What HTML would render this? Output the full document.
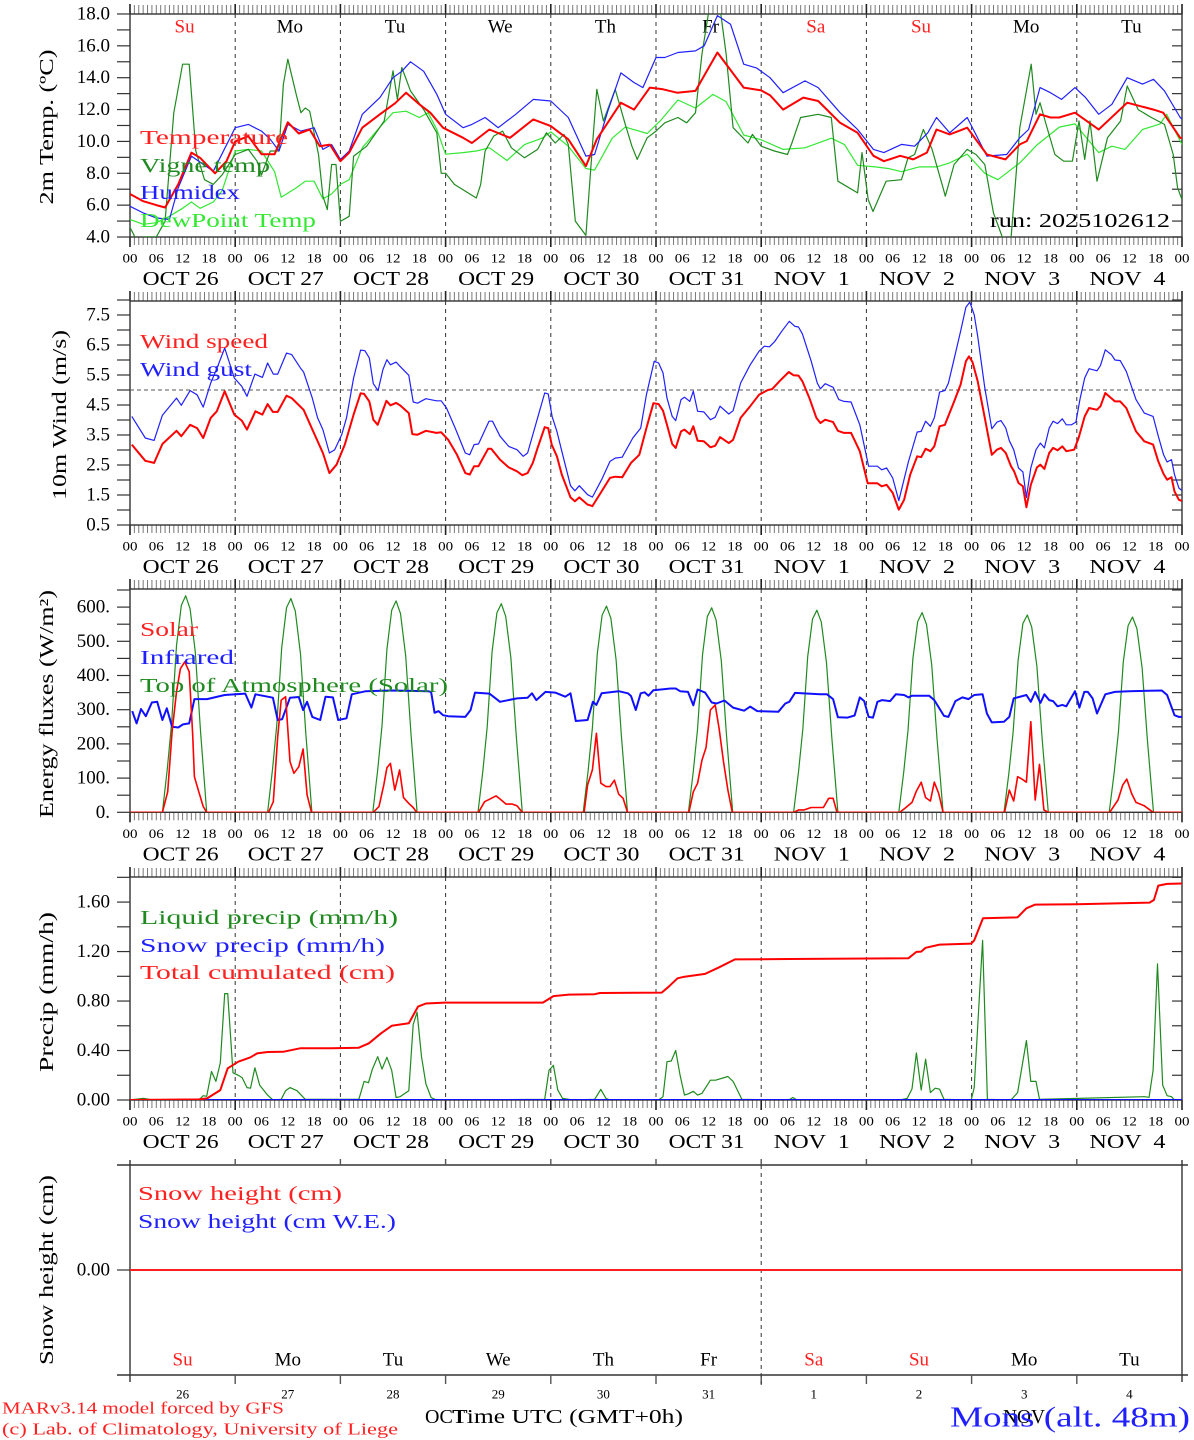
<!DOCTYPE html>
<html><head><meta charset="utf-8">
<style>html,body{margin:0;padding:0;background:#fff}svg{display:block}text{font-family:"Liberation Serif",serif;white-space:pre}</style>
</head><body>
<svg id="chart" xmlns="http://www.w3.org/2000/svg" width="1194" height="1440" viewBox="0 0 1194 1440"></svg>
<script>
// ---------- data ----------
const tempPts=[[0,6.7],[3,6.25],[6,6.0],[8,5.85],[11,7.3],[14,9.3],[16,8.97],[19.4,8.0],[22,8.75],[24,10.0],[27,10.33],[30,9.2],[33,9.2],[36,11.2],[38.5,10.5],[41,10.75],[43.3,9.7],[45.6,9.8],[48,8.76],[50,9.3],[53,10.86],[57,11.7],[60.5,12.4],[63,13.06],[66,12.33],[68.5,11.8],[71.4,10.86],[76,10.23],[78,9.9],[82,10.75],[86.7,10.23],[92,11.38],[96,10.96],[100,10.13],[104,8.45],[106.5,10.13],[112,12.43],[115,12.0],[118.6,13.38],[121.6,13.27],[124.8,13.06],[129,13.17],[134,15.58],[140,13.38],[144,13.2],[146,12.9],[149,12.0],[153.6,12.75],[157,12.54],[162,11.17],[166,10.54],[169.6,9.1],[172,8.76],[175.7,9.1],[178.7,8.87],[181.8,9.3],[184,10.75],[187,10.44],[191,10.86],[195.5,9.18],[199.7,8.87],[203,9.81],[204.6,10.02],[207.6,11.7],[210,11.5],[212,11.5],[215.6,11.8],[221,10.75],[227.5,12.43],[233.5,12.0],[235.7,11.8],[239.6,10.23],[240,10.2]];
const humPts=[[0,5.93],[3,5.51],[6,5.2],[9,5.1],[11,7.08],[14,9.08],[19,8.13],[24,10.86],[27,11.07],[30,10.65],[32,10.13],[34,9.4],[36,11.07],[39,10.65],[42,10.86],[44,9.5],[46,9.8],[48,8.87],[50,9.4],[53,11.7],[57,12.75],[60,14.0],[62,14.4],[64,15.0],[67,14.4],[70,12.96],[72,11.7],[76,10.86],[78,11.07],[81,11.5],[84,10.86],[88,11.7],[92,12.64],[96,12.54],[100,11.5],[104,9.08],[106,9.18],[109,11.9],[112,14.3],[115,13.69],[117,13.38],[120,15.27],[122,15.27],[125,15.58],[129,15.68],[131,16.0],[134,17.9],[137,17.36],[140,14.85],[143,14.6],[146,14.0],[149,13.06],[154,13.8],[157,13.38],[162,11.8],[166,10.75],[169.6,9.5],[172,9.3],[176,9.81],[179,9.7],[182,10.54],[184,11.5],[187,10.54],[191,11.5],[195.5,9.08],[200,9.18],[203,10.23],[205,10.75],[207.6,13.38],[210,13.06],[212.5,12.64],[215.6,13.38],[218,12.75],[221,11.7],[224,12.33],[227.5,14.0],[231,13.6],[233.5,13.9],[236,13.17],[239.6,11.5],[240,11.4]];
const dewPts=[[0,5.1],[3,4.8],[6,4.9],[9,5.3],[12,5.8],[14,6.2],[16,5.8],[19,6.2],[21,6.9],[24,9.4],[27,9.5],[30,9.4],[33,8.1],[34.5,6.5],[38,7.1],[40,7.5],[42,7.5],[44,6.4],[46,6.7],[48,7.3],[50,7.6],[53,9.6],[57,10.9],[60,11.8],[63,11.9],[66,11.5],[68,11.8],[70,10.75],[72,9.2],[76,9.3],[79,9.4],[82,9.6],[86,8.8],[90,9.8],[94,10.2],[96,10.6],[100,9.7],[104,8.3],[106,8.2],[110,10.2],[113,10.9],[118,10.5],[121,11.3],[125,12.6],[129,12.1],[133,12.95],[136,12.5],[140,10.4],[144,10.1],[149,9.5],[154,9.6],[160,10.2],[163,9.8],[166,8.5],[170,8.4],[173,8.3],[176,8.1],[180,8.4],[184,8.4],[187,8.65],[191,9.2],[195,8.0],[198,7.6],[203,8.65],[207,9.8],[212,10.9],[215.6,11.1],[221,9.3],[224,9.7],[227,9.5],[231,10.75],[235,11.1],[236.5,11.7],[240,9.8]];
const vigPts=[[0,4.6],[1.5,3.8],[3,4.0],[6,4.0],[8,5.0],[10,11.8],[12,14.85],[13.5,14.85],[15,9.4],[17,7.6],[19,7.3],[21,7.9],[24,9.18],[27,9.5],[29,8.76],[30,7.9],[32,9.4],[34,9.4],[35,13.6],[36,15.16],[38,12.85],[39,11.8],[40,12.1],[41,11.9],[43,9.18],[44,6.56],[45,5.72],[46,8.55],[47,8.55],[48,4.98],[50,5.3],[51,9.08],[54,9.7],[58,11.28],[60,14.43],[61,12.64],[62,14.64],[64,13.17],[67,12.0],[70,10.54],[71,8.0],[72,8.0],[74,7.3],[79,6.45],[80,7.3],[81,9.4],[83,10.34],[85,10.65],[87,9.6],[90,8.97],[93,9.5],[95,10.54],[97,9.9],[99,10.44],[100,9.8],[101.6,5.0],[104,4.1],[105.5,9.7],[106.5,13.27],[108,11.28],[110.7,13.27],[113,11.07],[114.5,9.7],[115.7,8.87],[118,10.23],[120,10.65],[122,11.17],[125,11.5],[127,11.17],[129,11.8],[130.5,15.5],[132,18.1],[134.7,18.2],[136,15.5],[137.6,10.86],[141,9.9],[142,10.44],[144,9.7],[147,9.4],[150,9.18],[151,9.9],[153,11.5],[157,11.7],[160,11.5],[161.5,7.5],[166,6.77],[167,9.3],[168.4,6.35],[169.5,5.6],[172.5,7.5],[176,7.6],[177.5,8.97],[179,9.18],[181,10.75],[183,9.5],[185.5,7.08],[186,6.56],[188,8.55],[191,9.5],[193,9.18],[195,8.55],[197,5.5],[199,4.0],[201,3.9],[203,10.86],[205.6,14.85],[206.7,11.7],[207.6,12.43],[209,11.07],[211,9.18],[213,8.76],[215,8.76],[216.5,11.28],[217.8,8.87],[219,11.28],[220.6,7.5],[223,10.23],[226,11.28],[227.5,13.48],[230,12.0],[233,11.5],[236,11.07],[238,9.18],[239,7.08],[240,6.35]];
const windPts=[[0.4,3.18],[3.5,2.64],[5.5,2.57],[7.4,3.2],[10.6,3.64],[11.7,3.46],[13.7,3.84],[15.3,3.73],[16.7,3.4],[18.4,4.07],[19.8,4.29],[21.6,4.96],[23.8,4.18],[25.5,3.98],[26.7,3.68],[28.6,4.29],[30.2,4.18],[31.4,4.53],[32.6,4.27],[33.7,4.27],[35.7,4.81],[36.9,4.73],[39.6,4.34],[41.8,3.62],[44,2.9],[45.5,2.23],[47.1,2.51],[49,3.18],[51,4.18],[52.6,4.89],[53.4,4.87],[54.6,4.62],[55.5,4.01],[56.5,3.84],[58.5,4.64],[59.4,4.49],[60.7,4.57],[61.6,4.49],[63.6,4.23],[64.4,3.53],[65.6,3.51],[67.5,3.64],[69.9,3.57],[71,3.59],[72.6,3.34],[74.6,2.84],[76.5,2.23],[77.5,2.18],[78.5,2.46],[79.5,2.46],[81.7,3.04],[82.4,3.04],[84.4,2.68],[86.4,2.42],[88.3,2.29],[89.5,2.16],[90.7,2.23],[91.9,2.57],[93,3.07],[94.6,3.76],[95.4,3.73],[96.2,3.18],[97.4,2.79],[98.5,2.18],[100.5,1.42],[101.5,1.29],[102.5,1.42],[104.4,1.18],[105.5,1.13],[107.6,1.62],[109.5,2.07],[110.7,2.11],[112.3,2.09],[114.3,2.57],[116.2,2.84],[117.8,3.73],[119.4,4.56],[120.6,4.53],[121.6,4.31],[122.5,3.84],[123.7,3.2],[124.5,3.07],[125.7,3.62],[126.5,3.68],[127.7,3.53],[128.5,3.79],[129.5,3.31],[130.9,3.29],[132.4,3.09],[133.5,3.14],[134.6,3.43],[136.6,3.23],[137.6,3.34],[139.3,4.07],[141.5,4.46],[143.5,4.84],[145.5,5.0],[146.5,5.03],[148.3,5.31],[150.3,5.6],[151.4,5.49],[152.5,5.48],[153.4,5.29],[155,4.73],[156.6,4.07],[157.5,3.9],[158.6,4.01],[160.4,3.93],[161.5,3.64],[162.9,3.57],[164.5,3.57],[166.5,2.96],[168.3,1.89],[170.5,1.89],[171.5,1.79],[172.6,1.84],[174,1.57],[175.4,1.01],[176.6,1.34],[178,2.18],[179.6,2.79],[180.5,2.76],[181.5,3.04],[182.6,2.96],[183.5,3.12],[184.7,3.79],[185.9,3.84],[187.9,4.57],[189.5,5.18],[190.7,5.96],[191.4,6.12],[192.2,5.93],[193.4,5.29],[195,4.07],[196.6,2.84],[197.8,3.01],[198.7,3.07],[199.8,2.9],[201,2.46],[201.7,2.29],[202.7,1.9],[203.7,1.79],[204.5,1.09],[205.5,1.84],[206.9,2.42],[207.7,2.51],[208.6,2.37],[209.7,2.9],[210.6,3.07],[211.6,2.99],[212.7,3.12],[213.6,2.96],[215.4,3.01],[216.4,3.4],[217.8,4.12],[218.8,4.4],[220.6,4.34],[221.4,4.46],[222.5,4.9],[224.7,4.62],[225.9,4.62],[227.3,4.4],[229.5,3.62],[231.4,3.29],[233.4,3.18],[234.6,2.62],[235.8,2.2],[236.6,2.01],[237.6,2.09],[238.3,1.62],[239.3,1.34],[240,1.3]];
const gustPts=[[0.4,4.12],[3.5,3.4],[5.5,3.32],[7.4,4.16],[10.6,4.73],[11.7,4.49],[13.7,4.98],[15.3,4.84],[16.7,4.43],[18.4,5.23],[20,5.79],[21.6,6.4],[23.8,5.4],[25.5,5.12],[26.7,4.79],[28.5,5.53],[30.2,5.42],[31.4,5.9],[32.7,5.53],[33.7,5.53],[35.7,6.23],[36.9,6.18],[38.9,5.73],[39.6,5.6],[41.6,4.73],[42.8,4.07],[44,3.68],[45.5,2.9],[46.7,3.01],[48.3,3.51],[49.4,4.07],[51,5.4],[52.6,6.33],[53.6,6.31],[54.6,6.07],[55.5,5.21],[56.6,4.98],[57.7,5.68],[58.6,6.01],[59.4,5.84],[60.7,5.93],[61.6,5.79],[63.6,5.49],[64.6,4.6],[65.6,4.56],[67.5,4.71],[69.9,4.64],[71,4.64],[72.2,4.4],[74.2,3.73],[76.5,2.9],[77.5,2.84],[78.5,3.18],[79.5,3.2],[81.9,3.96],[82.7,3.96],[84.4,3.46],[86.4,3.12],[88.3,3.01],[89.7,2.79],[90.7,2.9],[93,4.07],[94.6,4.9],[95.4,4.87],[96.3,4.12],[97.4,3.62],[98.5,2.96],[100.5,1.81],[101.5,1.64],[102.5,1.81],[104.4,1.51],[105.5,1.43],[107.6,2.01],[109.5,2.62],[110.7,2.73],[112.3,2.76],[114.7,3.4],[116.5,3.73],[117.8,4.84],[119.6,5.96],[120.6,5.9],[121.6,5.57],[122.5,4.73],[123.7,4.12],[124.5,3.98],[125.7,4.68],[126.5,4.76],[127.7,4.62],[128.5,4.96],[129.5,4.29],[130.9,4.27],[132.4,4.01],[133.5,4.09],[134.6,4.46],[136.6,4.2],[137.6,4.31],[139.3,5.23],[141.5,5.84],[143.5,6.29],[144.7,6.46],[145.9,6.44],[147.1,6.62],[148.7,6.96],[150.4,7.29],[151.7,7.12],[152.5,7.1],[153.4,6.87],[155.4,5.96],[156.8,5.23],[157.5,5.04],[158.6,5.21],[160.4,5.09],[161.7,4.68],[162.9,4.62],[164.5,4.6],[166.5,3.84],[168.5,2.46],[170.5,2.46],[171.5,2.34],[172.6,2.4],[174,2.07],[175.4,1.31],[177.6,2.62],[179.6,3.6],[180.5,3.62],[181.5,3.96],[182.6,3.79],[183.5,4.07],[184.7,4.93],[185.9,4.98],[186.7,5.23],[187.9,5.96],[189.5,6.96],[190.7,7.76],[191.6,7.93],[192.6,7.51],[193.4,6.79],[195,5.07],[196.6,3.71],[197.8,3.93],[198.7,3.98],[199.8,3.73],[200.6,3.31],[201.6,3.01],[202.7,2.4],[203.7,2.27],[204.5,1.42],[205.5,2.4],[206.7,3.01],[207.7,3.23],[208.6,3.07],[209.7,3.73],[210.6,3.96],[211.6,3.88],[212.7,4.04],[213.6,3.84],[214.8,3.84],[215.8,3.93],[216.7,4.68],[217.8,5.4],[218.8,5.71],[220.6,5.64],[221.4,5.82],[222.5,6.34],[223.9,6.18],[224.7,6.0],[225.9,5.98],[227.3,5.62],[229.5,4.68],[231.4,4.23],[233.4,4.12],[234.6,3.46],[235.8,2.84],[236.6,2.6],[237.6,2.68],[238.3,2.18],[239.3,1.73],[240,1.65]];
const solarPts=[[0,0],[7.4,0],[8.6,60],[9.6,236],[10.6,352],[11.5,420],[12.5,440],[13.5,411],[14.3,226],[14.7,104],[15.7,60],[16.7,17],[17.5,0],[31.6,0],[32.7,31],[33.7,221],[34.5,328],[35.5,338],[36.5,148],[37.4,114],[38.5,133],[39.5,185],[40.4,51],[41.4,0],[55.5,0],[56.8,17],[57.9,80],[58.6,130],[59.4,143],[60.4,65],[61.5,124],[62.4,43],[63.6,26],[64.6,14],[65.4,0],[79.5,0],[80.9,31],[82,38],[83.5,48],[84.4,39],[85.8,24],[87.2,24],[88.3,19],[89.5,0],[103.6,0],[104.4,80],[105.5,124],[106.4,231],[107.4,85],[108.6,75],[109.5,75],[110.5,94],[111.5,53],[112.5,41],[113.5,0],[127.5,0],[128.5,60],[129.5,85],[130.5,153],[131.4,189],[132.4,299],[133.5,314],[134.4,245],[135.4,148],[136.4,65],[137.4,0],[151.4,0],[152.6,7],[153.8,7],[155.4,14],[156.6,14],[158.2,14],[159.4,41],[160.4,41],[161.3,0],[175.6,0],[176.8,12],[178.4,29],[179.4,62],[180.5,88],[181.5,43],[182.6,33],[183.5,88],[184.5,55],[185.5,0],[199.5,0],[200.6,65],[201.6,33],[202.5,104],[203.5,97],[204.5,88],[205.5,265],[206.5,36],[207.5,140],[208.5,7],[209.5,0],[223.5,0],[225.4,36],[226.5,80],[227.4,97],[228.5,55],[229.5,29],[231.4,19],[233.4,0],[240,0]];
const irPts=[[0.5,296],[1.5,260],[2.5,302],[3.6,281],[5,321],[6.2,323],[7.4,270],[8.4,304],[9.6,250],[11,248],[12.1,257],[13.5,260],[14.7,331],[17.6,331],[21.6,343],[26.3,347],[27.7,306],[28.6,345],[32.6,335],[33.7,270],[34.7,272],[36.5,335],[38.5,337],[39.5,299],[40.4,323],[41.6,279],[43.4,270],[44.6,338],[46.3,336],[47.5,270],[49.4,275],[50.6,345],[53.8,354],[60,356],[67.9,354],[68.7,352],[69.5,291],[70.4,296],[71.4,284],[72.6,281],[76.5,279],[77.7,299],[78.7,350],[82,347],[84.4,323],[88.3,333],[90.7,335],[91.7,348],[92.7,328],[94.8,352],[97,350],[99.3,338],[100.5,348],[101.7,267],[104.4,270],[105.6,323],[106.4,314],[107.6,348],[111.5,354],[113.6,348],[114.3,340],[115.4,299],[116.5,348],[117.4,351],[118.3,341],[119.4,357],[121.7,360],[123.3,362],[124.5,362],[125.5,354],[127.3,352],[128.5,313],[129.5,359],[131.2,350],[132.7,321],[133.8,318],[135.6,327],[137.6,306],[140.1,297],[141.5,309],[143.1,296],[147.9,294],[149.5,318],[150.4,323],[151.7,349],[157.4,345],[159,345],[160.4,331],[161.5,278],[163.7,277],[165.3,283],[166.5,336],[167.5,325],[168.5,279],[169.5,277],[170.5,323],[171.6,328],[173.4,325],[174.7,345],[176.6,343],[177.6,336],[178.4,341],[182.3,341],[183.5,328],[185.7,282],[186.7,279],[188.3,325],[189.9,336],[191.3,331],[192.6,343],[194.5,345],[195.5,289],[196.6,263],[199.4,265],[200.6,279],[201.6,333],[204.5,343],[205.5,323],[206.5,352],[207.7,320],[208.6,345],[209.7,328],[210.6,325],[211.6,310],[212.7,314],[213.6,310],[215.6,354],[216.6,306],[217.7,352],[218.5,352],[219.6,333],[220.6,289],[222.5,345],[224.7,352],[227.9,354],[235.4,356],[236.6,343],[238.3,284],[239.3,279],[240,279]];
const toaDayHours=[7.4,8.5,9.5,10.6,11.7,12.7,13.7,14.9,16.1,17.5];
const toaValues=[
[0,127,260,487,605,633,595,468,234,0],
[0,125,256,481,598,625,588,463,231,0],
[0,124,253,476,591,618,581,457,229,0],
[0,122,250,470,583,610,573,451,226,0],
[0,121,247,464,576,603,567,446,223,0],
[0,120,245,460,572,598,562,443,221,0],
[0,118,242,455,565,591,556,437,219,0],
[0,117,239,450,558,584,549,432,216,0],
[0,115,237,444,552,577,542,427,213,0],
[0,114,234,440,546,571,537,423,211,0]];
const liqPts=[[0,0],[3.1,0.013],[5.1,0],[15.7,0],[16.7,0.035],[17.5,0.03],[18.6,0.23],[19.6,0.15],[20.6,0.30],[21.6,0.86],[22.3,0.86],[23.5,0.22],[24.7,0.20],[25.6,0.18],[26.7,0.10],[27.5,0.095],[28.5,0.26],[29.6,0.12],[31.4,0.04],[32.6,0],[34.5,0.005],[35.5,0.075],[36.5,0.10],[38.1,0.075],[40,0.005],[52.2,0.005],[53.4,0.15],[54.4,0.14],[55.3,0.25],[56.5,0.35],[57.5,0.25],[58.6,0.345],[59.7,0.24],[60.7,0.02],[61.6,0.027],[63.6,0.075],[64.6,0.61],[65.5,0.71],[66.5,0.35],[67.5,0.13],[68.7,0.02],[69.9,0],[94.6,0.005],[95.6,0.24],[96.6,0.28],[97.6,0.08],[98.7,0.013],[100.9,0],[106,0.005],[107.4,0.086],[108.6,0.013],[109.5,0],[120.6,0],[121.6,0.027],[122.5,0.31],[123.5,0.315],[124.5,0.40],[125.5,0.20],[126.5,0.04],[127.4,0.05],[128.5,0.07],[129.5,0.04],[130.5,0.054],[132.4,0.16],[133.6,0.16],[136.4,0.19],[137.6,0.15],[139.6,0.005],[150.3,0],[151.2,0.02],[152.2,0],[175.6,0],[177.3,0.013],[178.4,0.09],[179.4,0.38],[180.5,0.08],[181.5,0.33],[182.6,0.06],[183.7,0.095],[184.7,0.087],[185.7,0.005],[191.9,0],[192.6,0.10],[194.5,1.29],[195.6,0.005],[201,0],[202.5,0.06],[204.5,0.48],[205.5,0.15],[206.7,0.15],[207.5,0.005],[231.4,0.027],[232.5,0.022],[233.4,0.24],[234.4,1.10],[235.6,0.12],[236.6,0.035],[237.6,0.027],[238.3,0],[240,0]];
const snowPrecipPts=[[0,0],[240,0]];
const cumPts=[[0,0],[15.7,0.005],[17.6,0.013],[20.6,0.08],[22.3,0.256],[24.7,0.31],[27.5,0.345],[29,0.377],[31.4,0.388],[34.9,0.39],[38.8,0.418],[45.9,0.418],[52.2,0.423],[54.5,0.458],[57.3,0.54],[59.7,0.60],[63.6,0.62],[65.7,0.755],[67.5,0.78],[71.8,0.787],[94.2,0.787],[96.6,0.84],[100.1,0.852],[106,0.855],[107.2,0.865],[121.3,0.868],[122.9,0.916],[124.9,0.984],[126.5,0.997],[131.2,1.019],[134.4,1.073],[138,1.137],[150.3,1.14],[177.6,1.146],[179.4,1.197],[180.5,1.20],[181.5,1.23],[184.7,1.256],[191.9,1.264],[192.6,1.29],[194.6,1.47],[202.5,1.477],[204.5,1.55],[206.5,1.58],[216,1.582],[232.6,1.596],[233.6,1.617],[234.6,1.733],[236.6,1.747],[240,1.75]];
const snowHeightPts=[[0,0],[240,0]];
const dayNames=['Su','Mo','Tu','We','Th','Fr','Sa','Su','Mo','Tu'];
const dateLabels=['OCT 26','OCT 27','OCT 28','OCT 29','OCT 30','OCT 31','NOV  1','NOV  2','NOV  3','NOV  4'];
const dayNumbers=['26','27','28','29','30','31','1','2','3','4'];
const hourLabels=['00','06','12','18'];
const tempTicks=['4.0','6.0','8.0','10.0','12.0','14.0','16.0','18.0'];
const windTicks=['0.5','1.5','2.5','3.5','4.5','5.5','6.5','7.5'];
const fluxTicks=['0.','100.','200.','300.','400.','500.','600.'];
const precipTicks=['0.00','0.40','0.80','1.20','1.60'];

// ---------- helpers ----------
const svg=document.getElementById('chart');
const NS='http://www.w3.org/2000/svg';
function mk(tag,attrs,name,parent){
  const el=document.createElementNS(NS,tag);
  for(const k in attrs) el.setAttribute(k,attrs[k]);
  
  
  (parent||svg).appendChild(el);
  return el;
}
function txt(x,y,s,name,o){
  o=o||{};
  const el=mk('text',{x:x,y:y,'font-size':o.size||19,fill:o.fill||'#000','text-anchor':o.anchor||'start','dominant-baseline':'central'},name,o.parent);
  if(o.len){el.setAttribute('textLength',o.len);el.setAttribute('lengthAdjust','spacingAndGlyphs');}
  if(o.rot) el.setAttribute('transform','rotate(-90 '+x+' '+y+')');
  el.textContent=s;
  return el;
}
const X0=130,X1=1182;
function xOf(h){return X0+h*(X1-X0)/240;}
const panels=[
 {name:'temperature-panel',top:14,bot:237,y:v=>237-(v-4)*15.93,tmin:4,tmax:18,tstep:1,lab:tempTicks,labStart:4,labStep:2},
 {name:'wind-panel',top:301,bot:525,y:v=>525-(v-0.5)*30,tmin:0.5,tmax:8,tstep:0.5,lab:windTicks,labStart:0.5,labStep:1},
 {name:'energy-panel',top:589,bot:812.3,y:v=>812.3-v*0.342,tmin:0,tmax:650,tstep:50,lab:fluxTicks,labStart:0,labStep:100},
 {name:'precip-panel',top:877,bot:1100,y:v=>1100-v*123.7,tmin:0,tmax:1.8,tstep:0.2,lab:precipTicks,labStart:0,labStep:0.4}
];
const defs=mk('defs',{},'defs');
panels.forEach((p,i)=>{
  const cp=mk('clipPath',{id:'clip'+i},'clip',defs);
  mk('rect',{x:X0,y:p.top,width:X1-X0,height:p.bot-p.top},'clip-rect',cp);
});
function series(pi,pts,color,w,name){
  const p=panels[pi];
  const d=pts.map((q,k)=>(k?'L':'M')+xOf(q[0]).toFixed(1)+' '+p.y(q[1]).toFixed(1)).join('');
  mk('path',{d:d,fill:'none',stroke:color,'stroke-width':w,'stroke-linejoin':'round','clip-path':'url(#clip'+pi+')'},name);
}

// ---------- panels 1-4 frames/axes ----------
panels.forEach((p,pi)=>{
  const g=mk('g',{},p.name);
  // hour ticks
  for(let h=0;h<=240;h++){
    const x=xOf(h), day=h%24===0;
    mk('line',{x1:x,x2:x,y1:p.top-(day?10:9),y2:p.top,stroke:day?'#222':'#777','stroke-width':day?1.6:1},'top-hour-tick',g);
    mk('line',{x1:x,x2:x,y1:p.bot,y2:p.bot+(day?10:8),stroke:day?'#222':'#777','stroke-width':day?1.6:1},'bottom-hour-tick',g);
  }
  // day dashed lines
  for(let d=1;d<10;d++){
    const x=xOf(d*24);
    mk('line',{x1:x,x2:x,y1:p.top,y2:p.bot,stroke:'#333','stroke-width':1,'stroke-dasharray':'4,4'},'day-divider',g);
  }
  mk('rect',{x:X0,y:p.top,width:X1-X0,height:p.bot-p.top,fill:'none',stroke:'#333','stroke-width':1.4},'plot-frame',g);
  // y ticks
  for(let v=p.tmin;v<=p.tmax+1e-6;v+=p.tstep){
    const y=p.y(v);
    mk('line',{x1:117,x2:X0,y1:y,y2:y,stroke:'#333','stroke-width':1.2},'y-tick',g);
    mk('line',{x1:X1-10,x2:X1,y1:y,y2:y,stroke:'#333','stroke-width':1.2},'y-tick-right',g);
  }
  p.lab.forEach((s,k)=>{
    txt(110,p.y(p.labStart+k*p.labStep),s,'y-tick-label',{anchor:'end',size:19,parent:g});
  });
  // x labels
  for(let d=0;d<10;d++){
    hourLabels.forEach((s,k)=>{
      txt(xOf(d*24+k*6),p.bot+21,s,'x-hour-label',{anchor:'middle',size:13,len:15,parent:g});
    });
    txt(xOf(d*24+12)-2,p.bot+42,dateLabels[d],'x-date-label',{anchor:'middle',size:20,len:76,parent:g});
  }
  txt(xOf(240),p.bot+21,'00','x-hour-label',{anchor:'middle',size:13,len:15,parent:g});
});

// day names top
dayNames.forEach((s,d)=>{
  txt(xOf(d*24+12)+2,27,s,'day-name',{anchor:'middle',size:19,fill:(s==='Su'||s==='Sa')?'#ff2020':'#000'});
});

// panel 2 threshold line
mk('line',{x1:X0,x2:X1,y1:panels[1].y(5),y2:panels[1].y(5),stroke:'#555','stroke-width':1,'stroke-dasharray':'4,3'},'wind-5ms-line');

// series
series(0,dewPts,'#33e833',1.2,'dewpoint-line');
series(0,vigPts,'#1f8a1f',1.2,'vigne-temp-line');
series(0,humPts,'#2020ff',1.2,'humidex-line');
series(0,tempPts,'#ff0000',2,'temperature-line');
series(1,gustPts,'#2020ff',1.2,'wind-gust-line');
series(1,windPts,'#ff0000',2,'wind-speed-line');
const toaPts=[[0,0]];
toaValues.forEach((arr,d)=>{arr.forEach((v,k)=>{toaPts.push([d*24+toaDayHours[k],v]);});});
toaPts.push([240,0]);
series(2,toaPts,'#1f8a1f',1.2,'toa-solar-line');
series(2,irPts,'#1010ff',2,'infrared-line');
series(2,solarPts,'#ff0000',1.6,'solar-line');
series(3,liqPts,'#1f8a1f',1.2,'liquid-precip-line');
series(3,snowPrecipPts,'#1010ff',2,'snow-precip-line');
series(3,cumPts,'#ff0000',2,'total-cumulated-line');

// legends
function legend(x,y,s,c,len,name){txt(x,y,s,name,{fill:c,size:20,len:len});}
legend(140,138,'Temperature','#ff2020',148,'legend-temperature');
legend(140,166,'Vigne temp','#1f8a1f',130,'legend-vigne-temp');
legend(140,193,'Humidex','#2020ff',100,'legend-humidex');
legend(140,221,'DewPoint Temp','#33e833',176,'legend-dewpoint');
txt(1170,221,'run: 2025102612','run-label',{anchor:'end',size:20,len:180});
legend(140,342,'Wind speed','#ff2020',128,'legend-wind-speed');
legend(140,370,'Wind gust','#2020ff',112,'legend-wind-gust');
legend(140,630,'Solar','#ff2020',58,'legend-solar');
legend(140,658,'Infrared','#2020ff',94,'legend-infrared');
legend(140,686,'Top of Atmosphere (Solar)','#1f8a1f',308,'legend-toa');
legend(140,918,'Liquid precip (mm/h)','#1f8a1f',258,'legend-liquid-precip');
legend(140,946,'Snow precip (mm/h)','#2020ff',245,'legend-snow-precip');
legend(140,973,'Total cumulated (cm)','#ff2020',255,'legend-total-cumulated');

// y titles
txt(47,127,'2m Temp. (ºC)','y-axis-title-temp',{anchor:'middle',size:20,len:155,rot:true});
txt(60,415,'10m Wind (m/s)','y-axis-title-wind',{anchor:'middle',size:20,len:170,rot:true});
txt(47,704,'Energy fluxes (W/m²)','y-axis-title-energy',{anchor:'middle',size:20,len:228,rot:true});
txt(47,992,'Precip (mm/h)','y-axis-title-precip',{anchor:'middle',size:20,len:160,rot:true});
txt(47,1270,'Snow height (cm)','y-axis-title-snow',{anchor:'middle',size:20,len:190,rot:true});

// ---------- panel 5 ----------
const g5=mk('g',{},'snow-panel');
mk('line',{x1:117,x2:X1+6,y1:1165,y2:1165,stroke:'#333','stroke-width':1.4},'snow-top-line',g5);
mk('line',{x1:117,x2:X1+6,y1:1375,y2:1375,stroke:'#333','stroke-width':1.4},'snow-bottom-line',g5);
mk('line',{x1:X0,x2:X0,y1:1160,y2:1382,stroke:'#333','stroke-width':1.4},'snow-left-line',g5);
mk('line',{x1:X1,x2:X1,y1:1160,y2:1382,stroke:'#333','stroke-width':1.4},'snow-right-line',g5);
for(let d=1;d<10;d++){
  const x=xOf(d*24);
  mk('line',{x1:x,x2:x,y1:1159,y2:1165,stroke:'#555','stroke-width':1.4},'snow-top-day-tick',g5);
  mk('line',{x1:x,x2:x,y1:1375,y2:1384,stroke:'#555','stroke-width':1.4},'snow-bottom-day-tick',g5);
}
mk('line',{x1:xOf(144),x2:xOf(144),y1:1165,y2:1386,stroke:'#333','stroke-width':1,'stroke-dasharray':'4,4'},'month-divider',g5);
mk('line',{x1:117,x2:X0,y1:1270,y2:1270,stroke:'#333','stroke-width':1.2},'snow-y-tick',g5);
txt(110,1270,'0.00','snow-y-tick-label',{anchor:'end',size:19});
mk('path',{d:'M'+xOf(snowHeightPts[0][0])+' '+(1270-snowHeightPts[0][1]*50)+'L'+xOf(snowHeightPts[1][0])+' '+(1270-snowHeightPts[1][1]*50),stroke:'#ff2020','stroke-width':2,fill:'none'},'snow-height-line',g5);
legend(138,1194,'Snow height (cm)','#ff2020',204,'legend-snow-height');
legend(138,1222,'Snow height (cm W.E.)','#2020ff',258,'legend-snow-we');
dayNames.forEach((s,d)=>{
  txt(xOf(d*24+12),1360,s,'snow-day-name',{anchor:'middle',size:19,fill:(s==='Su'||s==='Sa')?'#ff2020':'#000'});
  txt(xOf(d*24+12),1394,dayNumbers[d],'day-number',{anchor:'middle',size:13});
});

// footer
txt(2,1408,'MARv3.14 model forced by GFS','credit-model',{fill:'#ff2020',size:17,len:282});
txt(2,1429,'(c) Lab. of Climatology, University of Liege','credit-lab',{fill:'#ff2020',size:17,len:396});
txt(425,1417,'OCT','month-label-oct',{size:20,len:40});
txt(452,1417,'Time UTC (GMT+0h)','x-axis-title',{size:20,len:231});
txt(1003,1417,'NOV','month-label-nov',{size:20,len:42});
txt(1190,1418,'Mons (alt. 48m)','station-label',{anchor:'end',fill:'#2020ff',size:28,len:240});
</script>
</body></html>
